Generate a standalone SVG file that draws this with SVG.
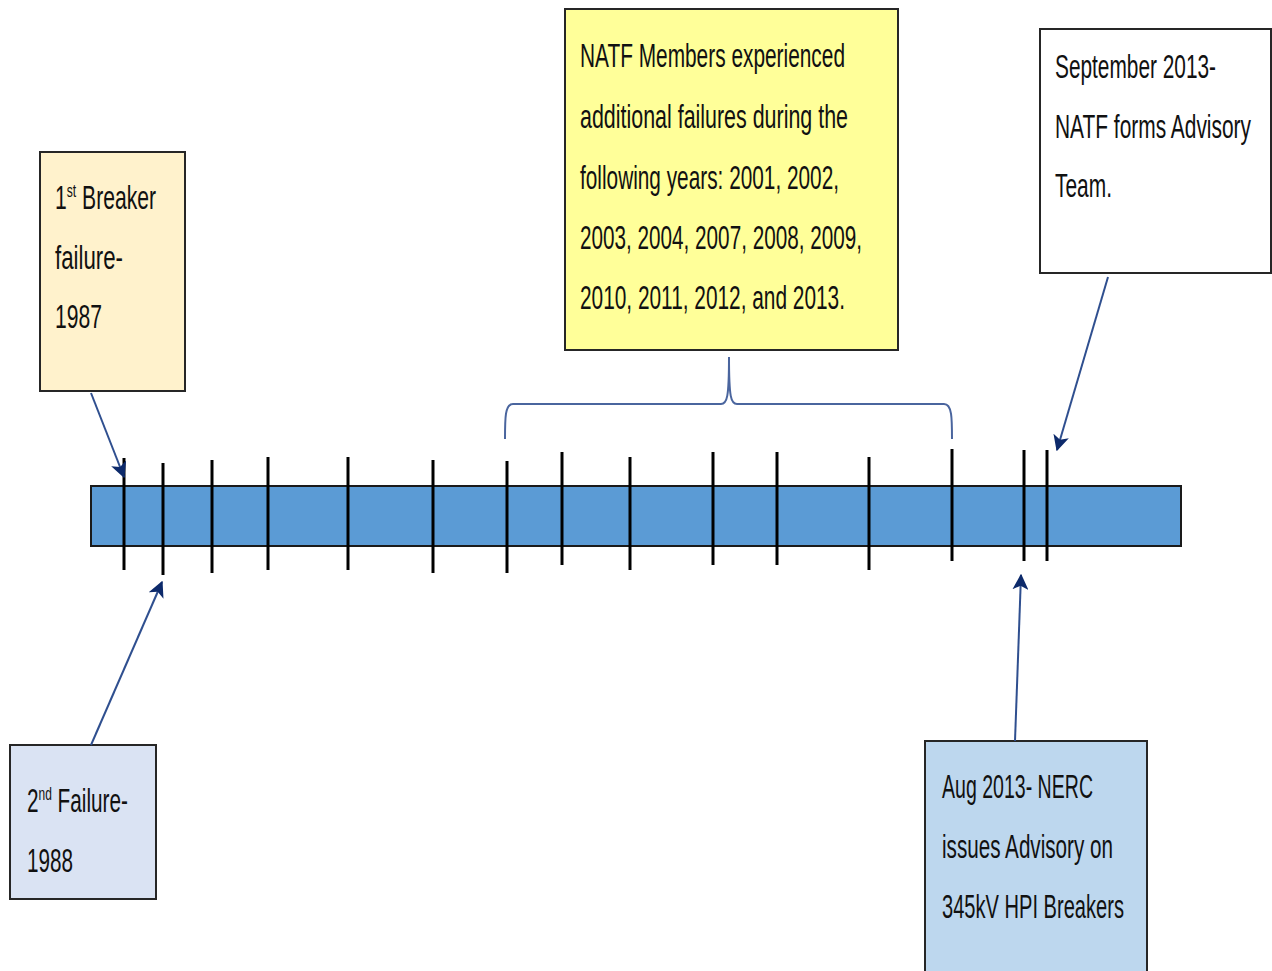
<svg xmlns="http://www.w3.org/2000/svg" width="1272" height="971" viewBox="0 0 1272 971">
<style>
.box{stroke:#262626;stroke-width:2}
.t{font-family:"Liberation Sans",Arial,sans-serif;font-size:33px;fill:#111}
.tick{stroke:#000;stroke-width:3}
.arr{stroke:#2F4F8F;stroke-width:2;fill:none}
</style>
<defs>
<marker id="ah" viewBox="0 0 12 12" refX="11" refY="6" markerWidth="16" markerHeight="16" markerUnits="userSpaceOnUse" orient="auto">
<path d="M0,0 L12,6 L0,12 L3,6 Z" fill="#0D2A6B"/>
</marker>
</defs>
<rect width="1272" height="971" fill="#fff"/>
<g id="timeline">
<rect x="91" y="486" width="1090" height="60" fill="#5B9BD5" stroke="#1a1a1a" stroke-width="2"/>
<line class="tick" x1="124" y1="458" x2="124" y2="570"/>
<line class="tick" x1="163" y1="463" x2="163" y2="575"/>
<line class="tick" x1="212" y1="460" x2="212" y2="573"/>
<line class="tick" x1="268" y1="457" x2="268" y2="570"/>
<line class="tick" x1="348" y1="457" x2="348" y2="570"/>
<line class="tick" x1="433" y1="460" x2="433" y2="573"/>
<line class="tick" x1="507" y1="461" x2="507" y2="573"/>
<line class="tick" x1="562" y1="452" x2="562" y2="565"/>
<line class="tick" x1="630" y1="457" x2="630" y2="570"/>
<line class="tick" x1="713" y1="452" x2="713" y2="565"/>
<line class="tick" x1="777" y1="452" x2="777" y2="565"/>
<line class="tick" x1="869" y1="457" x2="869" y2="570"/>
<line class="tick" x1="952" y1="449" x2="952" y2="561"/>
<line class="tick" x1="1024" y1="450" x2="1024" y2="561"/>
<line class="tick" x1="1047" y1="450" x2="1047" y2="561"/>
</g>
<g id="box1">
<rect class="box" x="40" y="152" width="145" height="239" fill="#FFF2CC"/>
<text class="t" x="55" y="209" textLength="101" lengthAdjust="spacingAndGlyphs">1<tspan font-size="19" dy="-12">st</tspan><tspan dy="12"> Breaker</tspan></text>
<text class="t" x="55" y="269" textLength="68" lengthAdjust="spacingAndGlyphs">failure-</text>
<text class="t" x="55" y="328" textLength="47" lengthAdjust="spacingAndGlyphs">1987</text>
</g>
<g id="box2">
<rect class="box" x="10" y="745" width="146" height="154" fill="#DAE3F3"/>
<text class="t" x="27" y="812" textLength="101" lengthAdjust="spacingAndGlyphs">2<tspan font-size="19" dy="-12">nd</tspan><tspan dy="12"> Failure-</tspan></text>
<text class="t" x="27" y="872" textLength="46" lengthAdjust="spacingAndGlyphs">1988</text>
</g>
<g id="box3">
<rect class="box" x="565" y="9" width="333" height="341" fill="#FFFF99"/>
<text class="t" x="580" y="67" textLength="265" lengthAdjust="spacingAndGlyphs">NATF Members experienced</text>
<text class="t" x="580" y="128" textLength="268" lengthAdjust="spacingAndGlyphs">additional failures during the</text>
<text class="t" x="580" y="189" textLength="259" lengthAdjust="spacingAndGlyphs">following years: 2001, 2002,</text>
<text class="t" x="580" y="249" textLength="282" lengthAdjust="spacingAndGlyphs">2003, 2004, 2007, 2008, 2009,</text>
<text class="t" x="580" y="309" textLength="265" lengthAdjust="spacingAndGlyphs">2010, 2011, 2012, and 2013.</text>
</g>
<g id="box4">
<rect class="box" x="1040" y="29" width="231" height="244" fill="#FFFFFF"/>
<text class="t" x="1055" y="78" textLength="161" lengthAdjust="spacingAndGlyphs">September 2013-</text>
<text class="t" x="1055" y="138" textLength="196" lengthAdjust="spacingAndGlyphs">NATF forms Advisory</text>
<text class="t" x="1055" y="197" textLength="57" lengthAdjust="spacingAndGlyphs">Team.</text>
</g>
<g id="box5">
<rect class="box" x="925" y="741" width="222" height="240" fill="#BDD7EE"/>
<text class="t" x="942" y="798" textLength="151" lengthAdjust="spacingAndGlyphs">Aug 2013- NERC</text>
<text class="t" x="942" y="858" textLength="171" lengthAdjust="spacingAndGlyphs">issues Advisory on</text>
<text class="t" x="942" y="918" textLength="182" lengthAdjust="spacingAndGlyphs">345kV HPI Breakers</text>
</g>
<g id="connectors">
<path d="M505,439 C505,418 505,404 513,404 L721,404 C727,404 729,398 729,357 C729,398 731,404 737,404 L944,404 C952,404 952,418 952,439" fill="none" stroke="#4A659E" stroke-width="2"/>
<line class="arr" x1="91" y1="393" x2="124" y2="477" marker-end="url(#ah)"/>
<line class="arr" x1="91" y1="745" x2="162" y2="582" marker-end="url(#ah)"/>
<line class="arr" x1="1108" y1="277" x2="1057" y2="450" marker-end="url(#ah)"/>
<line class="arr" x1="1015" y1="741" x2="1021" y2="575" marker-end="url(#ah)"/>
</g>
</svg>
